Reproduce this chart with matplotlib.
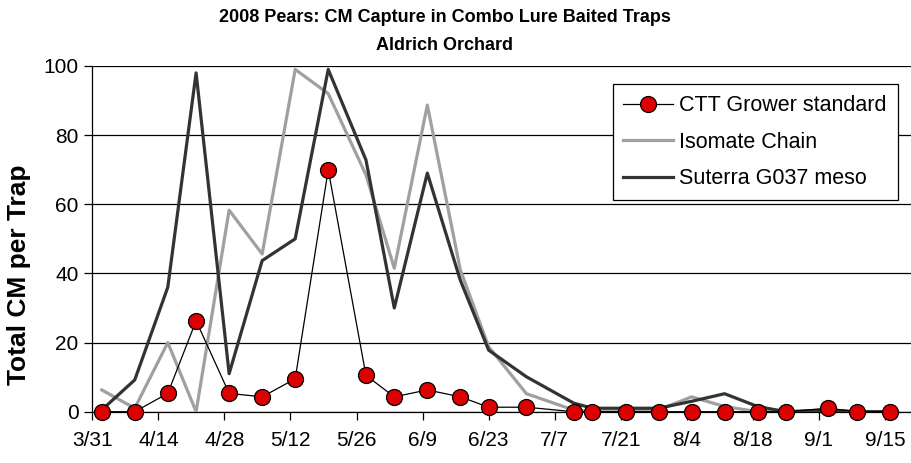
import matplotlib
matplotlib.use('Agg')
import matplotlib.pyplot as plt
import pandas as pd

plt.rcParams['font.family'] = ['Liberation Sans', 'DejaVu Sans']

# trap check dates (2008) and counts
check_dates = ['4/2', '4/9', '4/16', '4/22', '4/29', '5/6', '5/13', '5/20', '5/28',
               '6/3', '6/10', '6/17', '6/23', '7/1', '7/11', '7/15', '7/22', '7/29',
               '8/5', '8/12', '8/19', '8/25', '9/3', '9/9', '9/16']
ctt_grower = [0, 0, 5.3, 26.3, 5.3, 4.3, 9.5, 70, 10.5, 4.3, 6.3, 4.3, 1.3,
              1.3, 0, 0, 0, 0, 0, 0, 0, 0, 1, 0, 0]
isomate_chain = [6.3, 1, 20, 0, 58.3, 45.6, 99, 92, 68.5, 41.5, 88.7, 41, 18.8,
                 5.2, 0.5, 0, 0, 0.5, 4.3, 1.5, 0, 0, 0, 0, 0]
suterra_g037 = [0.5, 9.2, 36, 98, 11, 43.7, 50, 99, 72.8, 30, 69, 38, 17.8,
                10.1, 2.5, 1, 1, 1, 3, 5.2, 1.5, 0, 0.5, 0, 0]
series_names = ['CTT Grower standard', 'Isomate Chain', 'Suterra G037 meso']
y_ticks = [0, 20, 40, 60, 80, 100]

dates = pd.to_datetime(['2008/' + d for d in check_dates])
tick_dates = pd.date_range('2008-03-31', periods=13, freq='14D')
tick_labels = [f'{d.month}/{d.day}' for d in tick_dates]

fig = plt.figure(figsize=(9.11, 4.63), dpi=100, facecolor='w')
ax = fig.add_axes([0.1013, 0.1108, 0.8987, 0.7467])

ax.plot(dates, isomate_chain, color='#a0a0a0', lw=2.3, label=series_names[1], zorder=3)
ax.plot(dates, suterra_g037, color='#333333', lw=2.3, label=series_names[2], zorder=4)
ax.plot(dates, ctt_grower, color='black', lw=0.9, marker='o', ms=11.5,
        mfc='#dd0000', mec='black', mew=0.9, label=series_names[0],
        zorder=5, clip_on=False)

ax.set_ylim(0, 100)
ax.set_yticks(y_ticks)
ax.set_xlim(tick_dates[0], tick_dates[0] + pd.Timedelta(days=173.5))
ax.set_xticks(tick_dates)
ax.set_xticklabels(tick_labels)

ax.tick_params(axis='both', labelsize=15, direction='out', length=6, width=0.9, color='black')
ax.tick_params(axis='x', pad=8)
ax.tick_params(axis='y', pad=4)

ax.grid(axis='y', color='black', lw=0.9)
ax.set_axisbelow(True)
for s in ['top', 'right']:
    ax.spines[s].set_visible(False)
for s in ['left', 'bottom']:
    ax.spines[s].set_linewidth(0.9)

# Title + y label
fig.text(445 / 911, 1 - 17 / 463, '2008 Pears: CM Capture in Combo Lure Baited Traps',
         ha='center', va='center', fontsize=13, fontweight='bold')
fig.text(445 / 911, 1 - 45 / 463, 'Aldrich Orchard',
         ha='center', va='center', fontsize=13, fontweight='bold')
fig.text(19 / 911, 1 - 275 / 463, 'Total CM per Trap', rotation=90,
         ha='center', va='center', fontsize=19, fontweight='bold')

handles, labels = ax.get_legend_handles_labels()
order = [2, 0, 1]
leg = ax.legend([handles[i] for i in order], [labels[i] for i in order],
                loc='upper left', bbox_to_anchor=(612.7 / 911, 1 - 84.3 / 463),
                bbox_transform=fig.transFigure, fontsize=15.5, frameon=True,
                fancybox=False, edgecolor='black', framealpha=1,
                handlelength=2.3, handletextpad=0.3, labelspacing=0.72,
                borderpad=0.5, borderaxespad=0)
leg.get_frame().set_linewidth(0.9)

fig.savefig('out.png', dpi=100, facecolor='w')
